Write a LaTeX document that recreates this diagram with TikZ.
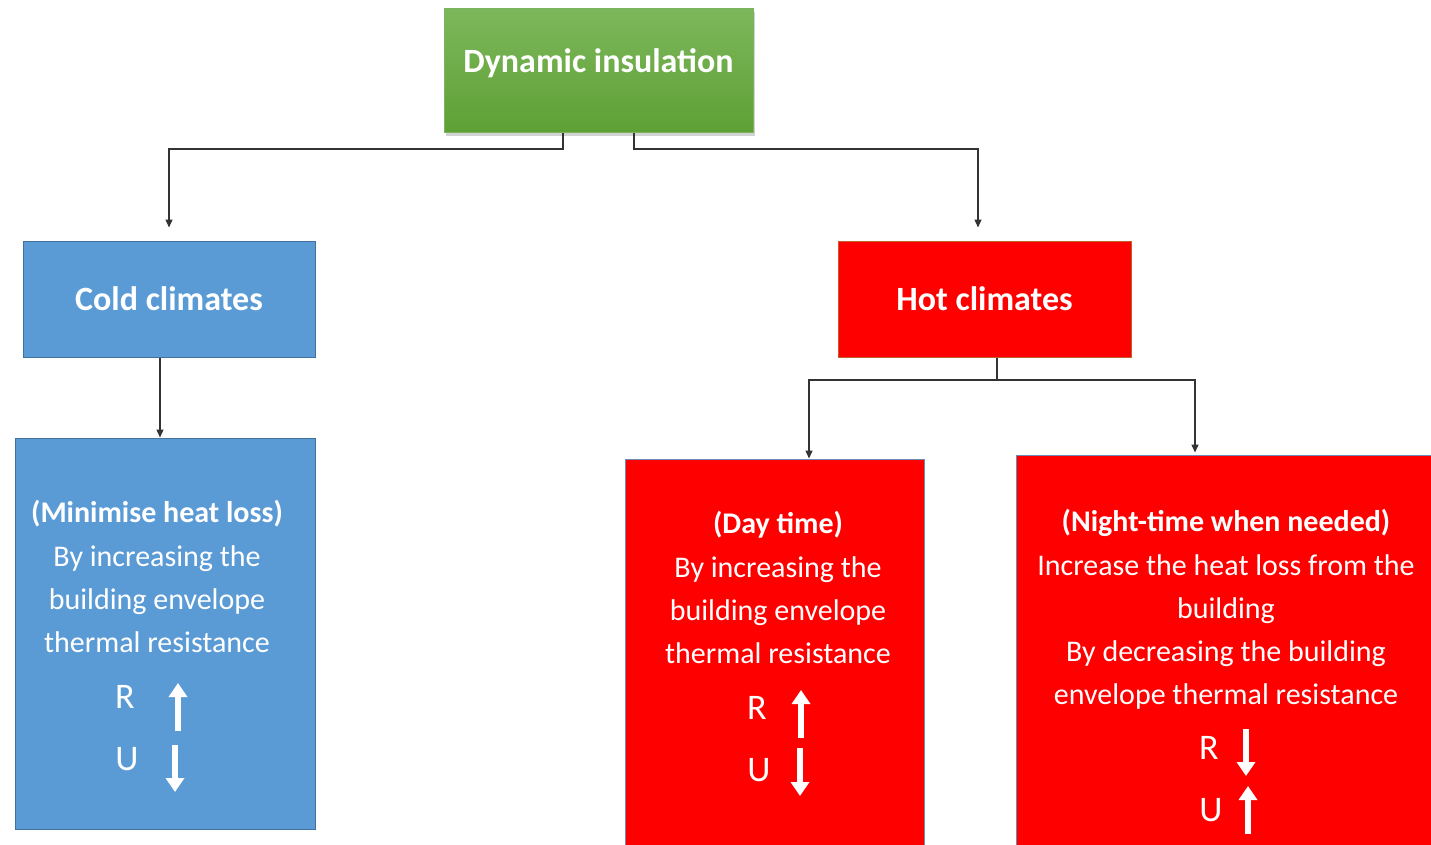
\documentclass[tikz,border=0pt]{standalone}
\usepackage{fontspec}
\setmainfont{Carlito}
\usetikzlibrary{arrows.meta,shadows}
\definecolor{cblue}{HTML}{5B9BD5}
\definecolor{cblueb}{HTML}{41719C}
\definecolor{cred}{HTML}{FF0000}
\definecolor{credb}{HTML}{C0612B}
\definecolor{credb2}{HTML}{6A8DB8}
\definecolor{gtop}{HTML}{7DB75B}
\definecolor{gbot}{HTML}{5EA035}
\definecolor{connc}{HTML}{333333}
\begin{document}
\begin{tikzpicture}[x=1pt,y=-1pt,
  conn/.style={draw=connc, line width=1.4pt, -{Triangle[length=8pt,width=7pt]}},
  bigtxt/.style={text=white, font=\bfseries\fontsize{34}{38}\selectfont},
  head/.style={text=white, font=\bfseries\fontsize{30}{34}\selectfont, anchor=base},
  body/.style={text=white, font=\fontsize{30}{34}\selectfont, anchor=base},
  ru/.style={text=white, font=\fontsize{36}{40}\selectfont, anchor=base},
  warrow/.style={white, line width=6pt, -{Triangle[length=14pt,width=18pt]}},
  box/.style={rectangle, inner sep=0pt, line width=1pt}
]
\useasboundingbox (0,0) rectangle (1431,845);
\fill[white] (0,0) rectangle (1431,845);

% boxes
\node[box, draw=gbot!80!white, top color=gtop, bottom color=gbot,
  drop shadow={shadow xshift=2pt, shadow yshift=-3pt, opacity=0.35},
  minimum width=309pt, minimum height=124pt] (top) at (598.5,71) {};
\node[bigtxt] (toptxt) at (598.5,63) {Dynamic insulation};
\node[box, draw=cblueb, fill=cblue, minimum width=292pt, minimum height=116pt, bigtxt] (cold) at (169,299) {Cold climates};
\node[box, draw=credb, fill=cred, minimum width=293pt, minimum height=116pt, bigtxt] (hot) at (984.5,299) {Hot climates};
\node[box, draw=cblueb, fill=cblue, minimum width=300pt, minimum height=391pt] (mincold) at (165,633.5) {};
\node[box, draw=credb2, fill=cred, minimum width=299pt, minimum height=390pt] (day) at (774.5,654) {};
\node[box, draw=credb2, fill=cred, minimum width=417pt, minimum height=394pt] (night) at (1224.5,652) {};

% connectors
\draw[conn, shorten >=13pt] ([xshift=-35.5pt]top.south) |- (400,149) -| (cold.north);
\draw[conn, shorten >=13pt] ([xshift=35.5pt]top.south) |- (800,149) -| ([xshift=-6.5pt]hot.north);
\draw[conn] ([xshift=-9pt]cold.south) -- ([xshift=-5pt]mincold.north);
\draw[conn] ([xshift=12.5pt]hot.south) |- (900,380) -| ([xshift=34.5pt]day.north);
\draw[conn, shorten >=2pt] ([xshift=12.5pt]hot.south) |- (1100,380) -| ([xshift=-29.5pt]night.north);

% cold text
\node[head] (c1) at (157,522) {(Minimise heat loss)};
\node[body] (c2) at (157,566) {By increasing the};
\node[body] (c3) at (157,609) {building envelope};
\node[body] (c4) at (157,652) {thermal resistance};
\node[ru] (cR) at (125,708) {R};
\node[ru] (cU) at (127,770) {U};
\draw[warrow] (178,731) -- (178,683);
\draw[warrow] (175,745) -- (175,792);

% day text
\node[head] (d1) at (778,533) {(Day time)};
\node[body] (d2) at (778,577) {By increasing the};
\node[body] (d3) at (778,620) {building envelope};
\node[body] (d4) at (778,663) {thermal resistance};
\node[ru] (dR) at (757,719) {R};
\node[ru] (dU) at (759,781) {U};
\draw[warrow] (801,738) -- (801,690);
\draw[warrow] (800,748) -- (800,796);

% night text
\node[head] (n1) at (1226,531) {(Night-time when needed)};
\node[body] (n2) at (1226,575) {Increase the heat loss from the};
\node[body] (n3) at (1226,618) {building};
\node[body] (n4) at (1226,661) {By decreasing the building};
\node[body] (n5) at (1226,704) {envelope thermal resistance};
\node[ru] (nR) at (1209,759) {R};
\node[ru] (nU) at (1211,821) {U};
\draw[warrow] (1246,729) -- (1246,776);
\draw[warrow] (1248,834) -- (1248,786);
\end{tikzpicture}
\end{document}
